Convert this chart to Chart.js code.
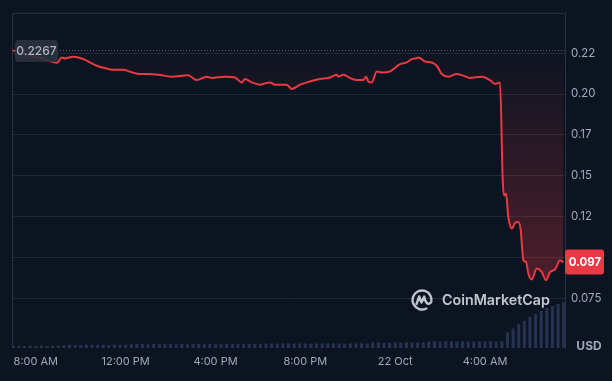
<!DOCTYPE html>
<html>
<head>
<meta charset="utf-8">
<script src="https://cdn.jsdelivr.net/npm/chart.js@4.4.1/dist/chart.umd.min.js"></script>
<style>
  html, body { margin: 0; padding: 0; background: #0d1421; }
  canvas { display: block; }
</style>
</head>
<body>
<canvas id="priceChart" width="612" height="381"></canvas>
<script>
// time in hours since 21 Oct 00:00
const hours = [
  6.985, 7.742, 8.276, 8.944, 9.153, 9.300, 9.447, 9.670, 9.892, 10.191,
  10.413, 10.712, 11.157, 11.451, 11.896, 12.194, 12.639, 12.996, 13.441, 14.051,
  14.777, 15.164, 15.609, 15.832, 16.424, 16.869, 17.168, 17.314, 17.613, 17.982,
  18.205, 18.427, 18.650, 18.949, 19.171, 19.394, 19.763, 20.208, 20.654, 21.099,
  21.397, 21.469, 21.691, 21.989, 22.288, 22.582, 22.702, 22.804, 22.956, 23.178,
  23.401, 23.771, 24.216, 24.514, 24.737, 24.959, 25.031, 25.329, 25.627, 25.850,
  26.073, 26.366, 26.740, 27.034, 27.332, 27.853, 28.223, 28.446, 28.668, 28.788,
  28.846, 28.935, 29.037, 29.189, 29.336, 29.483, 29.590, 29.706, 29.826, 29.928,
  30.080, 30.302, 30.525, 30.716, 30.894, 31.117, 31.339, 31.486
];
const prices = [
  0.2267, 0.2234, 0.2217, 0.2191, 0.2223, 0.2217, 0.2223, 0.2228, 0.2223, 0.2209,
  0.2193, 0.2173, 0.2156, 0.2148, 0.2148, 0.2136, 0.2122, 0.2122, 0.2118, 0.2106,
  0.2114, 0.2085, 0.2106, 0.2098, 0.2106, 0.2101, 0.2071, 0.2092, 0.2071, 0.2057,
  0.2065, 0.2071, 0.2057, 0.2057, 0.2057, 0.2031, 0.2057, 0.2077, 0.2092, 0.2101,
  0.2118, 0.2106, 0.2118, 0.2098, 0.2085, 0.2085, 0.2106, 0.2077, 0.2071, 0.2138,
  0.2132, 0.2138, 0.2183, 0.2193, 0.2213, 0.2220, 0.2223, 0.2199, 0.2193, 0.2173,
  0.2122, 0.2106, 0.2122, 0.2112, 0.2098, 0.2106, 0.2085, 0.2061, 0.2071, 0.1471,
  0.1380, 0.1390, 0.1248, 0.1177, 0.1211, 0.1217, 0.1167, 0.0984, 0.0973, 0.0902,
  0.0866, 0.0933, 0.0912, 0.0862, 0.0912, 0.0927, 0.0984, 0.0970
];

// volume buckets, one every quarter hour from 7:00 AM
const volStart = 7;
const volStep = 0.25;
const volumes = [
  22, 25, 21, 24, 23, 26, 22, 24, 25,
  31, 34, 33, 30, 35, 33, 32, 34, 31, 35, 33, 34,
  39, 41, 40, 38, 42, 40, 39, 41, 40, 43, 38, 40, 41, 39, 42, 40, 38, 41, 40, 39, 42, 41, 40, 42,
  46, 48, 45, 47, 49, 46, 47, 48, 45, 47, 49, 46, 48, 47, 45, 48, 47, 49, 46,
  56, 58, 55, 57, 59, 56, 58, 57, 55, 58,
  66, 68, 65, 67, 69, 66, 68, 67, 65, 68, 67, 69, 66, 68,
  160, 200, 245, 280, 320, 350, 380, 410, 430, 450, 470
];

const xTickValues = [8, 12, 16, 20, 24, 28];
const xTickLabels = ['8:00 AM', '12:00 PM', '4:00 PM', '8:00 PM', '22 Oct', '4:00 AM'];
const yTickValues = [0.075, 0.1, 0.125, 0.15, 0.175, 0.2, 0.225];
const yTickLabels = ['0.075', '0.10', '0.12', '0.15', '0.17', '0.20', '0.22'];

const openPrice = 0.2267;
const lastPrice = 0.097;

const RED = '#ea3943';
const GREY_TEXT = '#a1a7bb';

Chart.defaults.font.family = 'Inter, "Noto Sans", sans-serif';

const priceData = hours.map((h, i) => ({ x: h, y: prices[i] }));
const volData = volumes.map((v, i) => ({ x: volStart + i * volStep, y: v }));

const overlay = {
  id: 'overlay',
  beforeDraw(chart) {
    const c = chart.ctx;
    c.save();
    c.fillStyle = '#0d1421';
    c.fillRect(0, 0, chart.width, chart.height);
    c.restore();
  },
  afterDraw(chart) {
    const c = chart.ctx;
    const area = chart.chartArea;
    const y = chart.scales.y;

    c.save();
    // frame (top, left, right)
    c.strokeStyle = '#2b3140';
    c.lineWidth = 1;
    c.beginPath();
    c.moveTo(area.left + 0.5, area.bottom);
    c.lineTo(area.left + 0.5, area.top + 0.5);
    c.lineTo(area.right + 0.5, area.top + 0.5);
    c.lineTo(area.right + 0.5, area.bottom);
    c.stroke();

    // open price dotted line
    const yo = Math.round(y.getPixelForValue(openPrice)) + 0.5;
    c.strokeStyle = '#5a6372';
    c.setLineDash([1, 2]);
    c.beginPath();
    c.moveTo(area.left, yo);
    c.lineTo(area.right, yo);
    c.stroke();
    c.setLineDash([]);

    // open price badge
    c.fillStyle = 'rgba(44,49,62,0.9)';
    c.beginPath();
    c.roundRect(15, yo - 10.5, 43, 22, 4);
    c.fill();
    c.fillStyle = '#aab3c5';
    c.font = '500 12px Inter';
    c.textAlign = 'center';
    c.textBaseline = 'middle';
    c.fillText(openPrice.toFixed(4), 36.5, yo + 1);

    // last price badge
    const yl = y.getPixelForValue(lastPrice);
    c.fillStyle = RED;
    c.beginPath();
    c.roundRect(area.right, yl - 13, 39, 25, 3);
    c.fill();
    c.fillStyle = '#ffffff';
    c.font = 'bold 11.5px Inter';
    c.fillText(lastPrice.toFixed(3), area.right + 20, yl);

    // currency
    c.fillStyle = GREY_TEXT;
    c.font = 'bold 12px Inter';
    c.fillText('USD', 589, 346);

    // watermark
    const cx = 422, cy = 300;
    c.strokeStyle = 'rgba(225,228,235,0.85)';
    c.lineWidth = 2.4;
    c.lineCap = 'round';
    c.lineJoin = 'round';
    c.beginPath();
    c.arc(cx, cy, 9.5, 0.35 * Math.PI, 2.05 * Math.PI);
    c.stroke();
    c.beginPath();
    c.moveTo(cx - 5.5, cy + 4);
    c.lineTo(cx - 2.8, cy - 3.5);
    c.lineTo(cx - 0.5, cy + 2.5);
    c.lineTo(cx + 2.2, cy - 3.5);
    c.quadraticCurveTo(cx + 4, cy + 6, cx + 8.5, cy + 3);
    c.stroke();

    c.fillStyle = 'rgba(225,228,235,0.85)';
    c.textAlign = 'left';
    let size = 16;
    c.font = `600 ${size}px Inter`;
    const w = c.measureText('CoinMarketCap').width;
    size = size * 108 / w;
    c.font = `600 ${size}px Inter`;
    c.fillText('CoinMarketCap', 442, 301);
    c.restore();
  }
};

const ctx = document.getElementById('priceChart').getContext('2d');
new Chart(ctx, {
  type: 'line',
  data: {
    datasets: [
      {
        type: 'line',
        label: 'Price',
        data: priceData,
        yAxisID: 'y',
        borderColor: RED,
        borderWidth: 2,
        pointRadius: 0,
        cubicInterpolationMode: 'monotone',
        fill: { value: openPrice },
        backgroundColor: (c) => {
          const area = c.chart.chartArea;
          if (!area) return 'transparent';
          const g = c.chart.ctx.createLinearGradient(0, area.top + 30, 0, area.top + 280);
          g.addColorStop(0, 'rgba(234,57,67,0)');
          g.addColorStop(1, 'rgba(234,57,67,0.3)');
          return g;
        },
        order: 1
      },
      {
        type: 'bar',
        label: 'Volume',
        data: volData,
        yAxisID: 'yVol',
        backgroundColor: 'rgba(62,80,128,0.5)',
        barPercentage: 0.55,
        categoryPercentage: 1,
        order: 2
      }
    ]
  },
  options: {
    responsive: false,
    animation: false,
    layout: { padding: { left: 12, top: 12, right: 0, bottom: 0 } },
    plugins: {
      legend: { display: false },
      tooltip: { enabled: false }
    },
    scales: {
      x: {
        type: 'linear',
        offset: false,
        min: 6.94,
        max: 31.56,
        grid: { display: false, drawTicks: false },
        border: { display: false },
        afterBuildTicks: (axis) => { axis.ticks = xTickValues.map(v => ({ value: v })); },
        afterFit: (axis) => { axis.height = 33; },
        ticks: {
          color: GREY_TEXT,
          font: { size: 11 },
          padding: 7,
          maxRotation: 0,
          autoSkip: false,
          callback: (v) => xTickLabels[xTickValues.indexOf(v)]
        }
      },
      y: {
        position: 'right',
        min: 0.0447,
        max: 0.2496,
        grid: { color: '#222836', drawTicks: false },
        border: { display: true, color: '#2b3140' },
        afterBuildTicks: (axis) => { axis.ticks = yTickValues.map(v => ({ value: v })); },
        afterFit: (axis) => { axis.width = 47; },
        ticks: {
          color: GREY_TEXT,
          font: { size: 11.5 },
          padding: 6,
          callback: (v) => {
            const i = yTickValues.findIndex(t => Math.abs(t - v) < 1e-9);
            return i >= 0 ? yTickLabels[i] : '';
          }
        }
      },
      yVol: {
        display: false,
        min: 0,
        max: Math.max(...volumes) * 7.3
      }
    }
  },
  plugins: [overlay]
});
</script>
</body>
</html>
